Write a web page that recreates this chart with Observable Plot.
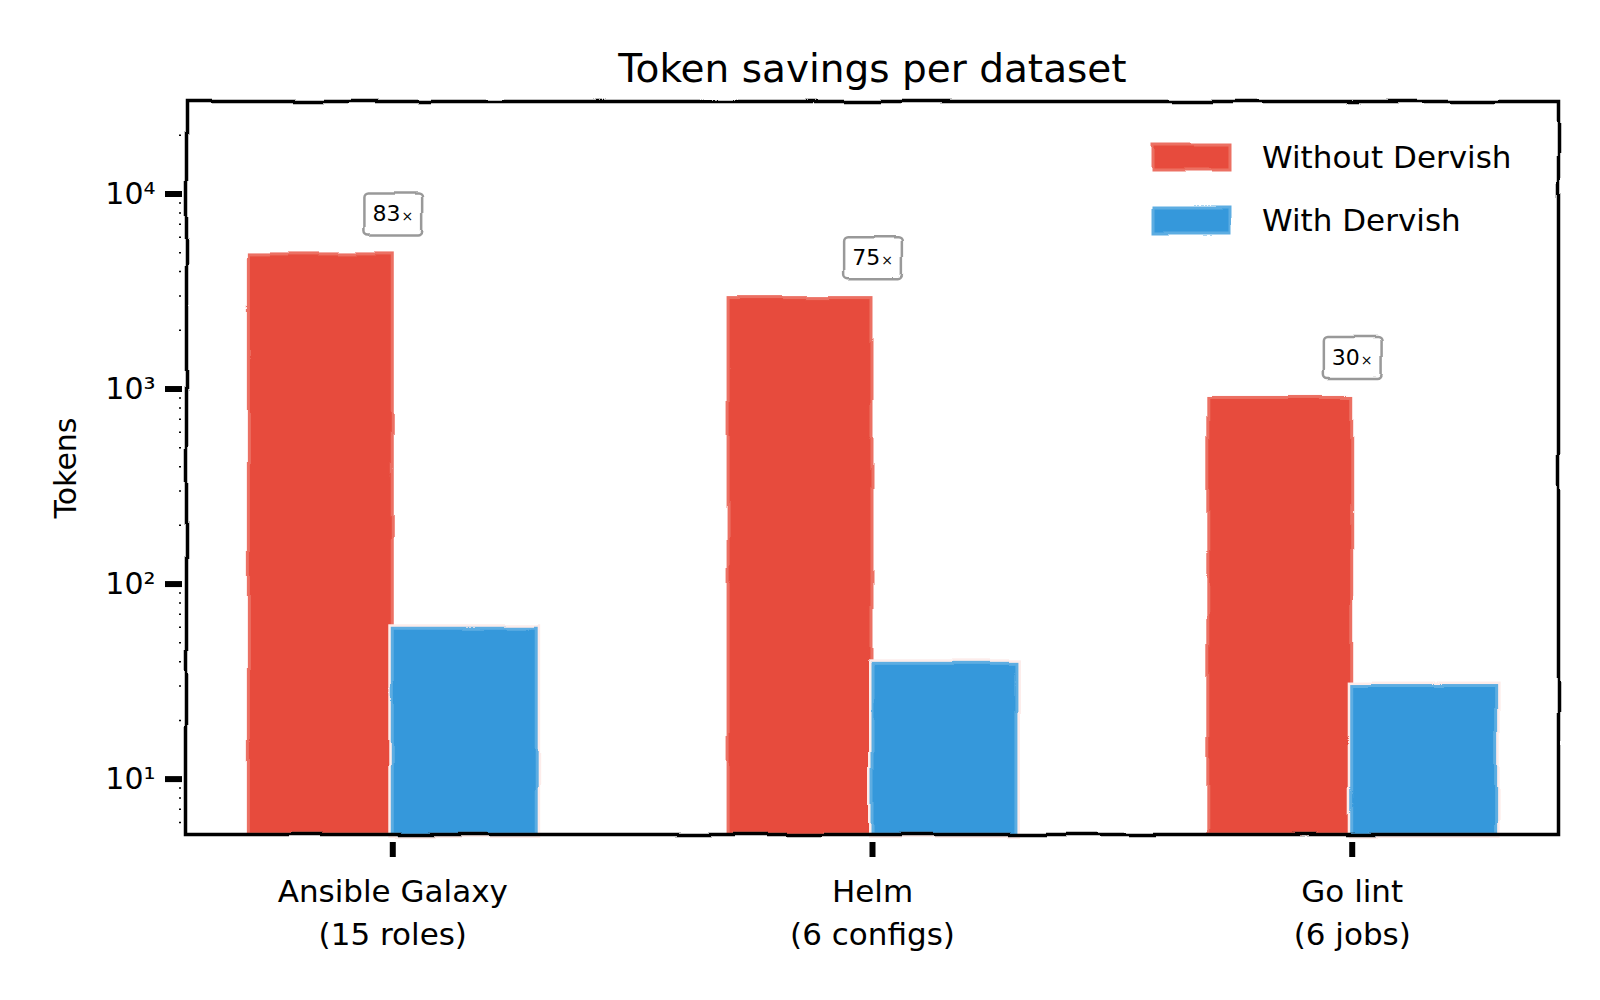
<!DOCTYPE html>
<html><head><meta charset="utf-8">
<script src="https://cdn.jsdelivr.net/npm/d3@7"></script>
<script src="https://cdn.jsdelivr.net/npm/@observablehq/plot@0.6"></script>
<style>html,body{margin:0;padding:0;background:#fff;} #chart svg{display:block;}</style>
</head><body><div id="chart"></div>
<script>
// ---- data ----
const categories = ["Ansible Galaxy\n(15 roles)", "Helm\n(6 configs)", "Go lint\n(6 jobs)"];
const seriesNames = ["Without Dervish", "With Dervish"];
const seriesColors = ["#e74c3c", "#3498db"];
const seriesEdges = ["#ec7063", "#5dade2"];
const withoutDervish = [4900, 2925, 900];
const withDervish = [59, 39, 30];
const savingsLabels = ["83", "75", "30"];
const savingsSuffix = "×";
const yMajorTicks = [10, 100, 1000, 10000];
const yTickLabels = ["10¹", "10²", "10³", "10⁴"];
const titleText = "Token savings per dataset";
const yLabelText = "Tokens";

// ---- layout ----
const FONT = "DejaVu Sans";
const yDomain = [5.2, 29800];
const xDomain = [-0.43, 2.43];
const barWidth = 0.3;
const rows = categories.map((c, i) => ({i, category: c, without: withoutDervish[i], with: withDervish[i], label: savingsLabels[i]}));
const minorTicks = d3.scaleLog().domain(yDomain).ticks().filter(v => Math.abs(Math.log10(v) - Math.round(Math.log10(v))) > 1e-9);

const chart = Plot.plot({
  width: 1600, height: 1000,
  marginLeft: 186, marginRight: 42, marginTop: 101, marginBottom: 166,
  style: {fontFamily: FONT, fontSize: "30px", color: "black", background: "white", overflow: "visible"},
  x: {type: "linear", domain: xDomain, axis: null},
  y: {type: "log", domain: yDomain, axis: null},
  marks: [
    Plot.rect(rows, {x1: d => d.i - barWidth, x2: d => d.i, y1: yDomain[0], y2: "without", fill: "white", stroke: "white", strokeWidth: 8, ariaDescription: "wobbly"}),
    Plot.rect(rows, {x1: d => d.i - barWidth, x2: d => d.i, y1: yDomain[0], y2: "without", fill: seriesColors[0], stroke: seriesEdges[0], strokeWidth: 3, ariaDescription: "wobbly"}),
    Plot.rect(rows, {x1: d => d.i, x2: d => d.i + barWidth, y1: yDomain[0], y2: "with", fill: "white", stroke: "#fdecea", strokeWidth: 8, ariaDescription: "wobbly"}),
    Plot.rect(rows, {x1: d => d.i, x2: d => d.i + barWidth, y1: yDomain[0], y2: "with", fill: seriesColors[1], stroke: seriesEdges[1], strokeWidth: 3, ariaDescription: "wobbly"}),
    Plot.frame({stroke: "black", strokeWidth: 3.5, ariaDescription: "wobbly"}),
    Plot.axisY({ticks: minorTicks, tickSize: 2, text: null, dx: -5, strokeWidth: 1.5, label: null}),
    Plot.axisY({ticks: yMajorTicks, tickFormat: d => yTickLabels[yMajorTicks.indexOf(d)], tickSize: 17, tickPadding: 10, dx: -4, strokeWidth: 6, fontSize: 30, label: null}),
    Plot.axisX({ticks: [0, 1, 2], text: null, tickSize: 15, dy: 8, strokeWidth: 6, label: null}),
    Plot.axisX({ticks: [0, 1, 2], tickFormat: i => categories[i], tickSize: 0, tickPadding: 37, fontSize: 31, lineHeight: 1.39, label: null}),
    Plot.text(rows, {x: "i", y: "without", text: "label", dy: -40, fontSize: 22, ariaDescription: "savings"}),
    Plot.text([titleText], {frameAnchor: "top", dy: -32, fontSize: 39, lineAnchor: "middle", textAnchor: "middle"}),
    Plot.text([yLabelText], {frameAnchor: "left", dx: -120, rotate: -90, fontSize: 30, lineAnchor: "middle", textAnchor: "middle"})
  ]
});

document.getElementById("chart").append(chart);
const svg = d3.select(chart);

// hand-drawn wobble filter
const defs = svg.insert("defs", ":first-child");
const f = defs.append("filter").attr("id", "wobble")
  .attr("x", "-20%").attr("y", "-20%").attr("width", "140%").attr("height", "140%");
f.append("feTurbulence").attr("type", "fractalNoise").attr("baseFrequency", "0.018")
  .attr("numOctaves", 1).attr("seed", 7).attr("result", "noise");
f.append("feDisplacementMap").attr("in", "SourceGraphic").attr("in2", "noise")
  .attr("scale", 5).attr("xChannelSelector", "R").attr("yChannelSelector", "G");
svg.selectAll('[aria-description="wobbly"]').attr("filter", "url(#wobble)");

// annotation boxes around savings labels
svg.selectAll('[aria-description="savings"] text').each(function() {
  const t = d3.select(this);
  t.append("tspan").attr("font-size", 14).attr("dx", 1).text(savingsSuffix);
  const b = this.getBBox();
  const r = d3.select(this.parentNode).insert("rect", () => this)
    .attr("x", b.x - 9).attr("y", b.y - 8)
    .attr("width", b.width + 18).attr("height", b.height + 16)
    .attr("rx", 4).attr("fill", "white").attr("stroke", "#999").attr("stroke-width", 2.5)
    .attr("filter", "url(#wobble)");
  if (t.attr("transform")) r.attr("transform", t.attr("transform"));
});

// legend inside the plot, top right
const lg = svg.append("g").attr("font-family", FONT).attr("font-size", 31).attr("text-anchor", "start");
seriesNames.forEach((name, k) => {
  const y = 157 + k * 63;
  lg.append("rect").attr("x", 1153).attr("y", y - 12).attr("width", 77).attr("height", 25)
    .attr("fill", seriesColors[k]).attr("stroke", seriesEdges[k]).attr("stroke-width", 3)
    .attr("filter", "url(#wobble)");
  lg.append("text").attr("x", 1262).attr("y", y).attr("dy", "0.35em").attr("fill", "black").text(name);
});
</script>
</body></html>
